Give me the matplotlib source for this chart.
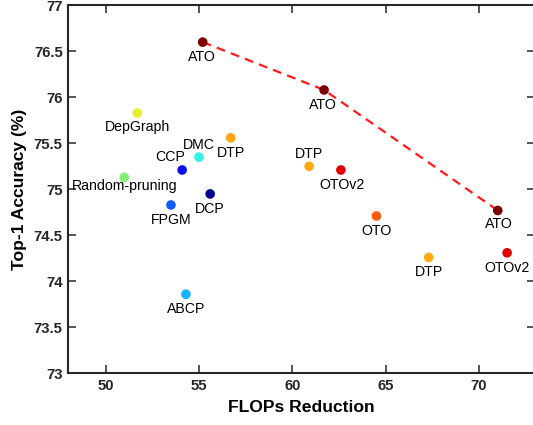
import matplotlib
matplotlib.use("Agg")
import matplotlib.pyplot as plt

plt.rcParams['font.family'] = ['Liberation Sans', 'DejaVu Sans']

# ---- data ----
methods = ["ATO", "ATO", "ATO", "DepGraph", "DTP", "DMC", "CCP", "Random-pruning",
           "DCP", "FPGM", "ABCP", "DTP", "OTOv2", "OTO", "DTP", "OTOv2"]
flops = [55.2, 61.7, 71.0, 51.7, 56.7, 55.0, 54.1, 51.0,
         55.6, 53.5, 54.3, 60.9, 62.6, 64.5, 67.3, 71.5]
acc = [76.60, 76.08, 74.77, 75.83, 75.56, 75.35, 75.21, 75.13,
       74.95, 74.83, 73.86, 75.25, 75.21, 74.71, 74.26, 74.31]
colors = ["#7f0000", "#7f0000", "#7f0000", "#e6f02a", "#ffa612", "#30f5e0", "#0a10e6", "#80f07a",
          "#00008f", "#0f5cff", "#14b4ff", "#ffaa14", "#e30000", "#ff5a0f", "#ffaa14", "#e30000"]
ato_flops = [55.2, 61.7, 71.0]
ato_acc = [76.60, 76.08, 74.77]
xticks = [50, 55, 60, 65, 70]
yticks = [73, 73.5, 74, 74.5, 75, 75.5, 76, 76.5, 77]

# label offsets in pixels (dx right, dy up)
label_offsets = [(-1, -15), (-1, -15), (1, -14), (0, -14.5), (0, -15.5), (0, 12.5), (-12, 12.5), (0, -8.5),
                 (0, -15.3), (0, -15.3), (0, -14.6), (0, 12), (1, -15), (0, -15.5), (0, -14.7), (0, -15.3)]

fig = plt.figure(figsize=(5.33, 4.25), dpi=100)
ax = fig.add_axes([0.128, 0.1216, 1.004 - 0.128, 0.9875 - 0.1216])

ax.plot(ato_flops, ato_acc, linestyle=(0, (4, 2.8)), color="#ff1a1a", linewidth=1.6, zorder=2)
ax.scatter(flops, acc, s=48, c=colors, edgecolors='none', zorder=3)

for m, x, y, (dx, dy) in zip(methods, flops, acc, label_offsets):
    ax.annotate(m, (x, y), xytext=(dx, dy), textcoords='offset pixels',
                ha='center', va='center', fontsize=10.2, color='black')

ax.set_xlim(48, 73)
ax.set_ylim(73, 77)
ax.set_xticks(xticks)
ax.set_yticks(yticks)
ax.set_xticklabels([f"{v:g}" for v in xticks], fontweight='bold', fontsize=10.7)
ax.set_yticklabels([f"{v:g}" for v in yticks], fontweight='bold', fontsize=10.7)
ax.tick_params(direction='in', top=True, right=True, length=5.5, width=1.1, pad=4, colors='#262626')
for s in ax.spines.values():
    s.set_linewidth(1.5)
    s.set_color('#262626')
ax.set_xlabel("FLOPs Reduction", fontweight='bold', fontsize=12.6, labelpad=5)
ax.set_ylabel("Top-1 Accuracy (%)", fontweight='bold', fontsize=12.6, labelpad=5)

fig.savefig("out.png", dpi=100)
